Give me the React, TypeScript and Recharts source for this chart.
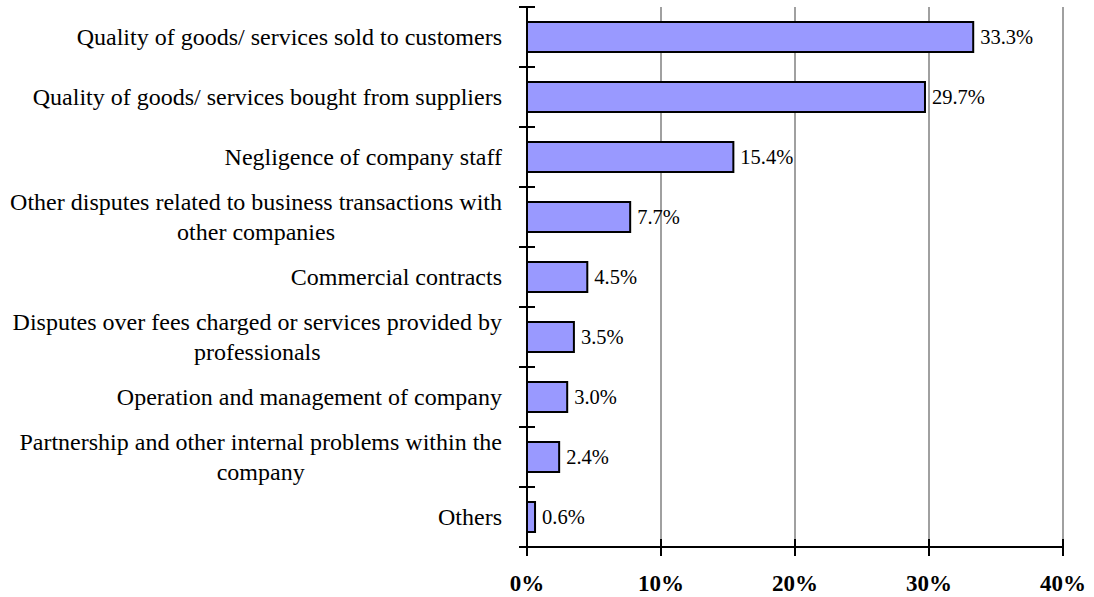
import { BarChart, Bar, XAxis, YAxis, CartesianGrid, LabelList } from 'recharts'

const categories = [
  'Quality of goods/ services sold to customers',
  'Quality of goods/ services bought from suppliers',
  'Negligence of company staff',
  'Other disputes related to business transactions with\nother companies',
  'Commercial contracts',
  'Disputes over fees charged or services provided by\nprofessionals',
  'Operation and management of company',
  'Partnership and other internal problems within the\ncompany',
  'Others',
]

const shares = [33.3, 29.7, 15.4, 7.7, 4.5, 3.5, 3.0, 2.4, 0.6]

const percentTicks = [0, 10, 20, 30, 40]

const chartData = categories.map((name, i) => ({ name, share: shares[i] }))

const SERIF = "'Liberation Serif', 'Times New Roman', serif"
const LABEL_SIZE = 24

// canvas is only used to measure label widths so wrapped lines can be centred
let measureCtx: CanvasRenderingContext2D | null = null
function textWidth(s: string) {
  if (!measureCtx) measureCtx = document.createElement('canvas').getContext('2d')
  if (!measureCtx) return s.length * LABEL_SIZE * 0.45
  measureCtx.font = `${LABEL_SIZE}px ${SERIF}`
  return measureCtx.measureText(s).width
}

function CategoryTick(props: any) {
  const { x, y, payload, index } = props
  const half = payload?.offset ?? 30
  const lines = String(payload.value).split('\n')
  const widest = Math.max(...lines.map(textWidth))
  const right = x - 25
  const lineH = 30
  const y0 = y - ((lines.length - 1) * lineH) / 2
  return (
    <g>
      <line x1={x - 8} x2={x + 8} y1={y - half} y2={y - half} stroke="#000" strokeWidth={2} />
      {index === categories.length - 1 && (
        <line x1={x - 8} x2={x} y1={y + half} y2={y + half} stroke="#000" strokeWidth={2} />
      )}
      <text fontFamily={SERIF} fontSize={LABEL_SIZE} fill="#000">
        {lines.map((l, i) => (
          <tspan
            key={i}
            x={lines.length > 1 ? right - widest / 2 : right}
            y={y0 + i * lineH}
            dy="0.33em"
            textAnchor={lines.length > 1 ? 'middle' : 'end'}
          >
            {l}
          </tspan>
        ))}
      </text>
    </g>
  )
}

function PercentTick(props: any) {
  const { x, y, payload } = props
  return (
    <g>
      <line x1={x} x2={x} y1={y - 8} y2={y + 9} stroke="#000" strokeWidth={2} />
      <text x={x} y={y + 36} dy="0.35em" textAnchor="middle" fontFamily={SERIF} fontSize={23} fontWeight="bold" fill="#000">
        {payload.value}%
      </text>
    </g>
  )
}

export default function App() {
  return (
    <div style={{ position: 'absolute', left: 0, top: 0, background: '#fff' }}>
      <BarChart
        width={1094}
        height={597}
        data={chartData}
        layout="vertical"
        barCategoryGap="25%"
        margin={{ top: 7, right: 31, left: 0, bottom: 0 }}
      >
        <CartesianGrid horizontal={false} stroke="#a0a0a0" strokeWidth={2} />
        <XAxis
          xAxisId="top"
          orientation="top"
          type="number"
          domain={[0, 40]}
          ticks={percentTicks}
          height={0}
          tick={false}
          tickLine={false}
          axisLine={{ stroke: '#a0a0a0', strokeWidth: 2 }}
        />
        <XAxis
          type="number"
          domain={[0, 40]}
          ticks={percentTicks}
          height={50}
          tickSize={0}
          tickMargin={0}
          tickLine={false}
          axisLine={{ stroke: '#000', strokeWidth: 2 }}
          tick={<PercentTick />}
          interval={0}
        />
        <YAxis
          type="category"
          dataKey="name"
          width={527}
          tickSize={0}
          tickMargin={0}
          tickLine={false}
          axisLine={{ stroke: '#000', strokeWidth: 2 }}
          tick={<CategoryTick />}
          interval={0}
        />
        <Bar dataKey="share" fill="#9999ff" stroke="#000" strokeWidth={2} isAnimationActive={false}>
          <LabelList
            dataKey="share"
            position="right"
            offset={7}
            fontFamily={SERIF}
            fontSize={20.5}
            fill="#000"
            formatter={(v: any) => `${Number(v).toFixed(1)}%`}
          />
        </Bar>
      </BarChart>
    </div>
  )
}
